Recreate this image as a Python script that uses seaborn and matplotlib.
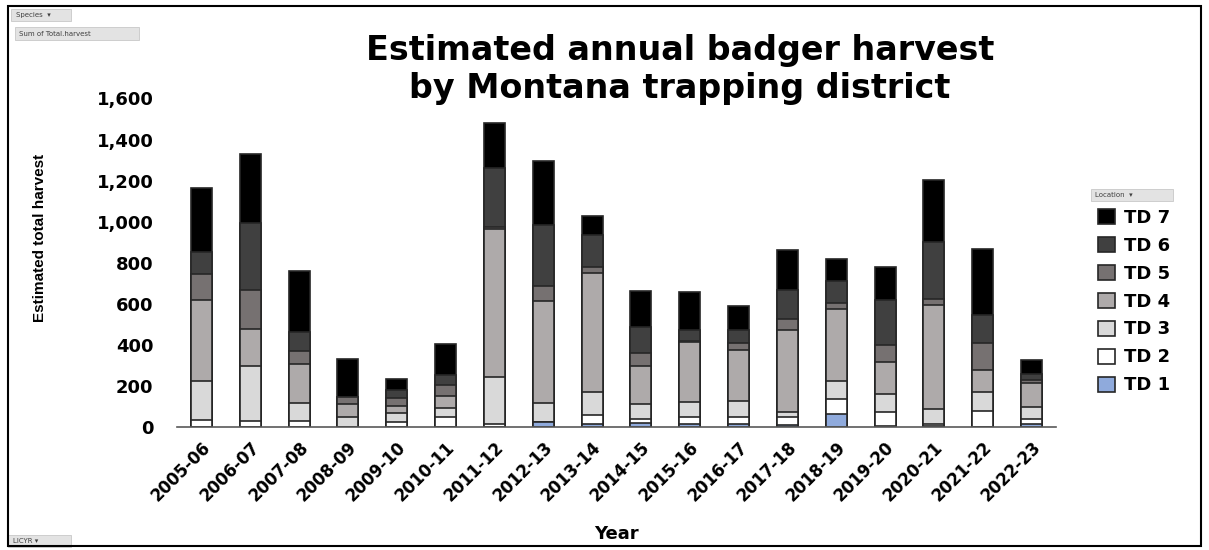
import numpy as np
import pandas as pd
import matplotlib
matplotlib.use('Agg')
import matplotlib.pyplot as plt
from matplotlib.patches import Patch, Rectangle
import seaborn as sns

# data (estimated)
years = ['2005-06', '2006-07', '2007-08', '2008-09', '2009-10', '2010-11',
         '2011-12', '2012-13', '2013-14', '2014-15', '2015-16', '2016-17',
         '2017-18', '2018-19', '2019-20', '2020-21', '2021-22', '2022-23']
td1 = [3, 2, 3, 0, 3, 2, 3, 24, 15, 19, 16, 16, 10, 63, 6, 5, 0, 16]
td2 = [33, 30, 28, 0, 25, 50, 12, 0, 47, 21, 33, 33, 39, 75, 67, 13, 81, 24]
td3 = [191, 267, 89, 52, 40, 40, 232, 96, 111, 73, 74, 81, 24, 87, 87, 69, 89, 60]
td4 = [393, 178, 189, 60, 36, 62, 718, 496, 580, 186, 293, 245, 400, 350, 158, 510, 108, 114]
td5 = [125, 189, 61, 34, 37, 52, 9, 69, 26, 62, 5, 34, 55, 30, 80, 26, 131, 15]
td6 = [108, 326, 94, 3, 40, 49, 285, 298, 157, 126, 50, 62, 141, 109, 221, 276, 138, 31]
td7 = [311, 338, 296, 182, 56, 151, 220, 311, 94, 176, 187, 120, 193, 104, 162, 306, 322, 65]

districts = ['TD 1', 'TD 2', 'TD 3', 'TD 4', 'TD 5', 'TD 6', 'TD 7']
colors = ['#8FAADC', '#FFFFFF', '#D9D9D9', '#AEAAAA', '#767171', '#404040', '#000000']

df = pd.DataFrame({'Year': years, 'TD 1': td1, 'TD 2': td2, 'TD 3': td3,
                   'TD 4': td4, 'TD 5': td5, 'TD 6': td6, 'TD 7': td7})
cum = df[districts].cumsum(axis=1)

sns.set_style('white')
plt.rcParams['font.family'] = ['DejaVu Sans']
plt.rcParams['text.color'] = 'black'
plt.rcParams['axes.labelcolor'] = 'black'
plt.rcParams['xtick.color'] = 'black'
plt.rcParams['ytick.color'] = 'black'

fig = plt.figure(figsize=(12.09, 5.5), dpi=100)
ax = fig.add_axes([0.1464, 0.2231, 0.727, 0.598])

# draw cumulative totals from the top district down so that each one overlays the next
for name, col in reversed(list(zip(districts, colors))):
    sns.barplot(x=df['Year'], y=cum[name], color=col, width=0.43,
                edgecolor='#262626', linewidth=1.2, saturation=1,
                errorbar=None, ax=ax)

ax.set_ylim(0, 1600)
ax.set_xlim(-0.5, 17.5)
ax.set_yticks(range(0, 1601, 200))
ax.set_yticklabels([f'{v:,}' for v in range(0, 1601, 200)], fontsize=13, fontweight='bold')
ax.set_xticks(range(len(years)))
ax.set_xticklabels(years, rotation=45, ha='right', rotation_mode='anchor',
                   fontsize=12, fontweight='bold')
ax.tick_params(axis='both', length=0, pad=8)
ax.tick_params(axis='y', pad=17)
for s in ['top', 'right', 'left']:
    ax.spines[s].set_visible(False)
ax.spines['bottom'].set_color('#595959')
ax.spines['bottom'].set_linewidth(1.2)

ax.set_xlabel('Year', fontsize=13, fontweight='bold', labelpad=14)
ax.set_ylabel('')
fig.text(0.033, 0.568, 'Estimated total harvest', rotation=90, ha='center', va='center',
         fontsize=11, fontweight='bold', family=['Liberation Sans', 'DejaVu Sans'])

fig.text(0.5625, 0.873, 'Estimated annual badger harvest\nby Montana trapping district',
         ha='center', va='center', fontsize=24, fontweight='bold', linespacing=1.2)

handles = [Patch(facecolor=c, edgecolor='#262626', linewidth=1.2, label=d)
           for d, c in zip(districts, colors)]
handles = handles[::-1]
leg = fig.legend(handles=handles, loc='upper left', bbox_to_anchor=(0.895, 0.65),
                 frameon=False, prop={'weight': 'bold', 'size': 13},
                 handlelength=0.9, handleheight=0.9, handletextpad=0.5, labelspacing=0.55)

# pivot field buttons
def button(x, y, txt, w):
    fig.patches.append(Rectangle((x, y), w, 0.022, transform=fig.transFigure,
                                 facecolor='#E3E3E3', edgecolor='#C8C8C8', lw=0.6))
    fig.text(x + 0.004, y + 0.011, txt, fontsize=5, va='center', ha='left', color='#404040')

button(0.009, 0.962, 'Species  ▾', 0.05)
button(0.012, 0.928, 'Sum of Total.harvest', 0.103)
button(0.902, 0.635, 'Location  ▾', 0.068)
button(0.007, 0.005, 'LICYR ▾', 0.052)

# outer border
fig.patches.append(Rectangle((0.007, 0.007), 0.986, 0.982, transform=fig.transFigure,
                             fill=False, edgecolor='black', lw=1.5))

fig.savefig('out.png', dpi=100)
